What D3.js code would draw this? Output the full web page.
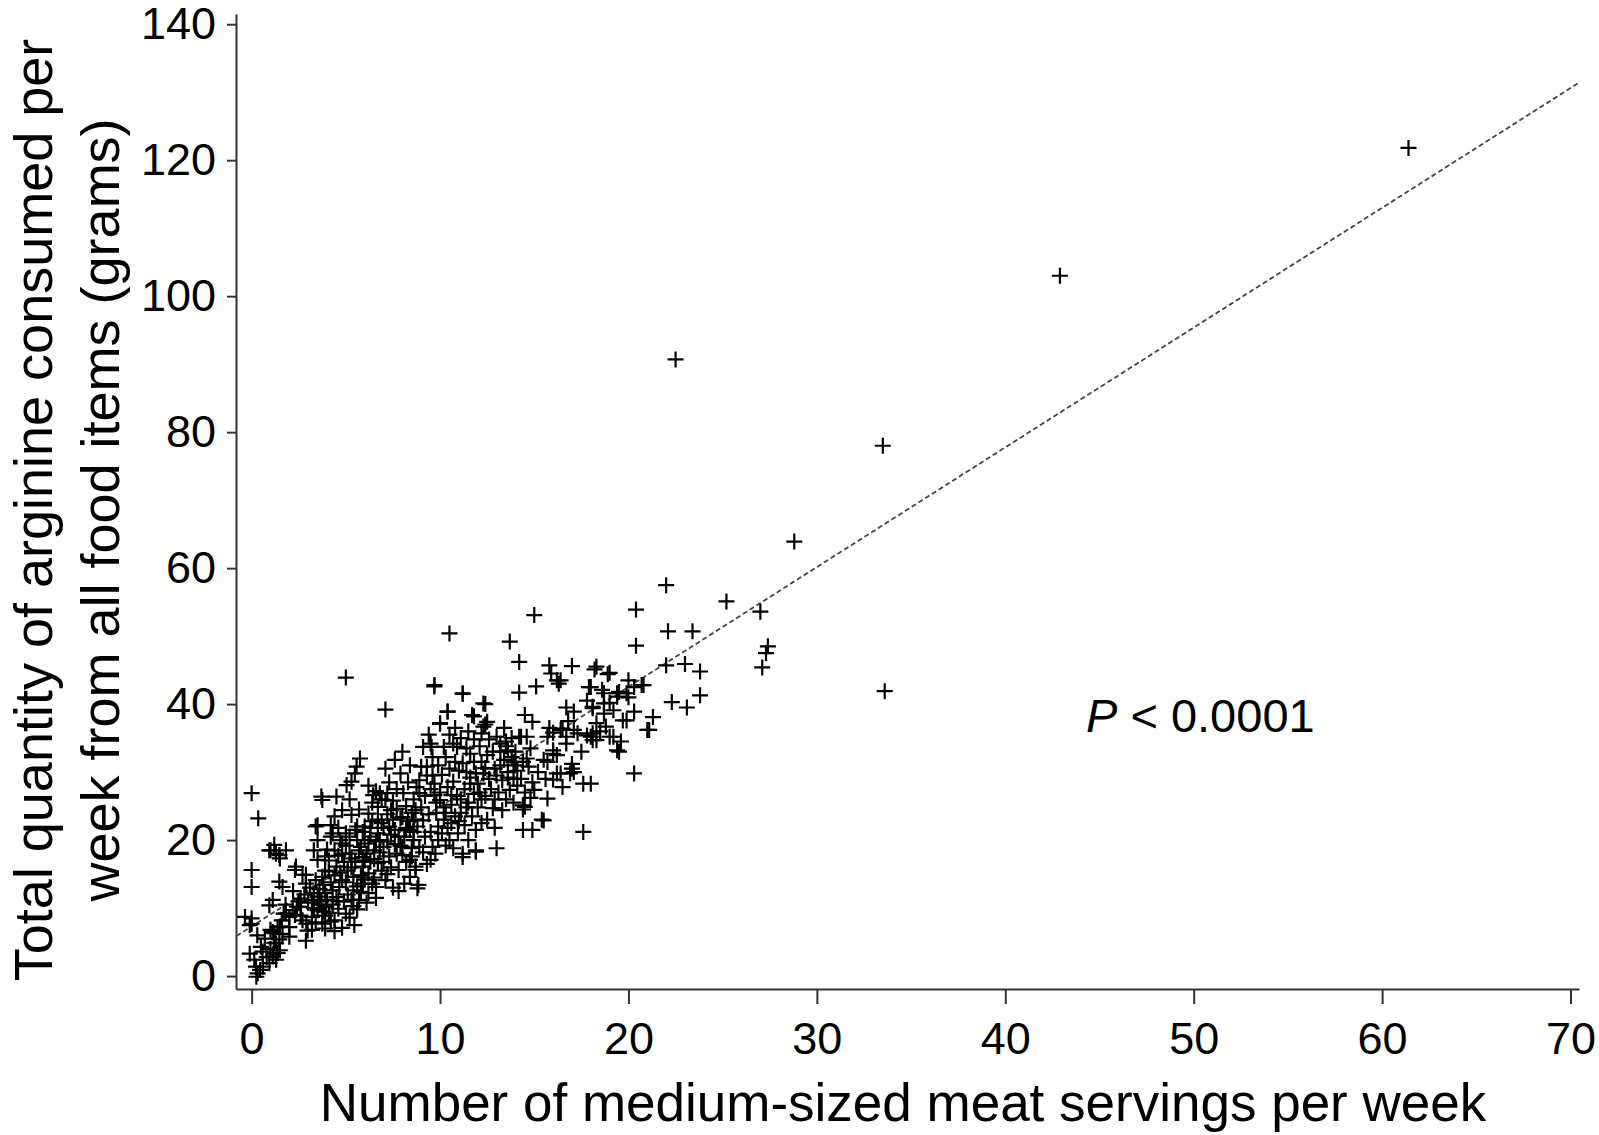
<!DOCTYPE html>
<html>
<head>
<meta charset="utf-8">
<script src="https://cdn.jsdelivr.net/npm/d3@7"></script>
<style>
body { margin: 0; background: #fff; }
svg { display: block; font-family: "Liberation Sans", Arial, sans-serif; }
.axis path, .axis line { stroke: #333; stroke-width: 2; }
.axis text { font-size: 45px; fill: #000; font-family: "Liberation Sans", Arial, sans-serif; }
</style>
</head>
<body>
<svg width="1599" height="1135"></svg>
<script>
// [meat servings per week, arginine grams per week]
var farPoints = [[61.4,121.8],[42.9,103.0],[22.5,90.7],[33.5,78.0],[33.6,41.9],[28.8,63.9],[25.2,55.1],[27.0,53.6],[22.0,57.5],[27.4,48.5],[27.3,47.5],[27.1,45.4]];

var highPoints = [[20.4,53.9],[22.1,50.7],[23.4,50.7],[20.4,48.6],[22.0,45.7],[23.0,45.9],[23.8,44.8],[20.0,43.5],[20.7,42.8],[19.0,44.6],[19.5,41.8],[20.0,41.0],[23.8,41.3],[22.3,40.3],[23.1,39.5],[19.2,39.1],[20.3,38.9],[21.3,38.1],[19.7,37.6],[21.0,36.2],[19.6,34.5],[19.0,35.2],[19.5,33.0],[20.3,29.8],
  [15.0,53.1],[10.5,50.4],[13.7,49.2],[14.2,46.2],[15.8,45.7],[17.0,45.6],[18.2,45.1],[18.9,44.4],[15.9,44.5],[16.2,43.5],[16.3,43.0],[15.1,42.6],[14.2,41.7],[17.9,42.5],[18.6,42.1],[9.7,42.6],[11.2,41.5],[12.4,40.0],[10.4,38.9],[11.8,38.2],[12.5,37.4],[10.0,37.1],[12.3,36.7],[12.2,35.7],[14.5,38.4],[14.9,37.4],[17.1,38.9],[18.1,39.4],[18.7,38.6],[16.5,36.4],[17.3,35.7],[18.3,37.2],[18.0,35.2],[15.7,35.2],[13.5,34.5],[14.2,35.2],[14.6,35.2],[9.5,34.2],[10.7,34.2],[13.2,34.2],
  [17.6,21.2],[14.4,21.5],[14.9,21.5],[15.4,23.0],[15.7,26.1],[15.0,27.4],[16.0,33.2],[15.7,31.5],[16.4,29.8],[17.1,30.0],[16.0,28.9],[17.6,28.3],[18.0,28.3],[19.4,33.2],[16.7,34.2],[18.1,34.7],
  [16.4,36.2],[18.1,39.6],[18.7,40.1],[19.4,41.6],[19.9,41.6],[20.3,42.5],[20.8,42.8],[17.8,35.4],[18.3,34.7],[19.2,35.2],[21.1,36.2],[16.2,29.8],[16.9,29.8],[15.5,22.9],[14.4,25.1],[16.0,32.7],[17.0,30.5],[18.3,45.5],[16.4,43.5],[18.0,42.5],[18.7,41.6],[19.4,41.1],[18.8,36.7],[19.9,37.6],[16.7,35.2],[17.1,36.2],[18.1,35.7]];

var midPoints = [[9.1,22.9],[9.55,33.7],[9.6,32.2],[9.5,17.1],[9.7,42.8],[10.0,37.2],[9.2,26.5],[9.5,27.5],[9.8,25.5],[9.3,29.5],[9.7,28.3],[9.2,20.5],[9.6,19.0],[9.9,22.0],[9.4,23.8],[9.8,24.0],[9.1,18.2],[9.9,20.0],[9.3,30.8],[9.6,29.5],[9.9,31.0],[9.4,35.5],[9.5,21.2],[9.0,24.8],[9.75,18.0],[9.3,16.5],
  [10.2,33.7],[10.3,32.2],[10.4,38.9],[10.9,33.7],[10.0,25.9],[10.3,24.0],[10.6,22.5],[10.1,21.0],[10.5,20.0],[10.8,23.5],[10.2,23.0],[10.6,25.2],[10.9,26.5],[10.4,27.8],[10.7,28.6],[10.1,29.6],[10.5,30.5],[10.8,31.5],[10.3,19.2],[10.7,18.8],[10.95,21.0],[10.0,27.0],[10.5,35.5],[10.8,36.5],
  [11.2,41.6],[11.7,38.4],[11.6,32.7],[11.2,31.3],[11.9,29.8],[11.2,18.0],[11.9,18.5],[11.1,24.0],[11.5,25.5],[11.8,26.8],[11.3,27.5],[11.6,28.3],[11.0,30.2],[11.4,30.0],[11.8,31.5],[11.3,22.2],[11.7,23.5],[11.9,21.5],[11.5,20.0],[11.1,26.0],[11.4,33.5],[11.8,34.8],[11.5,36.0],[11.1,35.0],[11.2,17.5],
  [12.3,40.1],[12.4,37.0],[12.2,22.5],[12.8,24.7],[13.0,18.8],[12.4,26.5],[12.1,27.0],[12.6,29.0],[12.9,30.5],[12.2,31.5],[12.5,32.5],[12.8,33.0],[12.3,29.8],[12.7,27.5],[12.0,24.8],[12.5,23.0],[12.9,26.0],[12.6,34.8],[12.1,33.8],[12.9,21.8],[11.9,18.3],
  [13.3,24.4],[13.0,35.2],[13.5,33.8],[13.8,32.2],[13.2,31.0],[13.6,30.0],[13.9,29.0],[13.3,28.8],[13.7,27.4],[13.1,27.0],[13.5,26.0],[13.9,31.5],[13.4,36.5],[13.8,35.0],[13.2,33.0],[13.6,29.2],[13.9,25.5],
  [14.3,35.2],[14.8,33.5],[14.4,31.5],[14.1,30.2],[14.7,30.8],[14.3,29.0],[14.9,28.5],[14.5,27.0],[14.1,28.0],[14.6,32.0],[14.0,33.0],[14.4,24.5],[14.8,26.2],[14.5,24.9],
  [15.5,31.8],[16.2,32.5],[15.2,30.0],[15.8,36.5],[16.8,37.5],[17.5,33.0],[17.0,31.2],[16.5,27.8],[15.6,29.0],[18.5,36.0],[16.0,35.8],[17.8,40.5],[19.0,40.2],[16.7,39.5],
  [10.2,24.8],[10.6,26.6],[11.0,22.8],[11.4,24.8],[12.0,28.3],[12.4,30.6],[13.0,29.5],[13.4,31.8],[10.4,21.8],[9.7,26.6],[11.6,29.2],[12.2,26.0],[13.6,33.2],[14.0,31.0]];

var lowPoints = [[0.0,26.9],[0.35,23.2],[0.0,15.6],[0.0,13.1],[-0.35,8.7],[0.0,7.7],[-0.1,7.5],[0.0,8.5],[0.49,4.3],[0.58,3.6],[-0.1,3.3],[0.14,2.4],[0.23,1.4],[0.32,0.4],[0.94,1.9],[0.6,1.4],[0.45,0.9],[0.25,-0.1],[0.94,10.4],[1.12,11.2],[0.8,2.8],
  [1.2,19.3],[0.94,18.5],[1.29,18.0],[1.47,17.8],[1.82,18.5],[1.0,18.5],[1.5,17.3],[1.47,13.9],[1.64,13.1],[1.12,2.9],[1.38,3.4],[1.3,2.4],[1.15,3.3],[1.2,4.9],[1.47,5.4],[1.3,4.8],[1.5,3.8],[1.12,6.5],[1.38,7.2],[1.64,6.2],[1.0,6.8],[1.2,6.3],[1.5,7.3],[1.82,9.2],[1.7,9.2],[2.0,8.7],[2.0,7.2],
  [2.35,16.1],[2.3,15.6],[2.7,14.9],[2.88,14.9],[2.18,9.7],[2.62,10.2],[2.4,10.2],[2.7,8.2],[2.97,6.7],[2.88,5.2],[2.9,7.7],[2.88,13.6],[2.5,11.0],[2.8,12.0],[2.2,12.5],[2.6,8.9],
  [3.2,11.2],[3.5,11.7],[3.9,12.2],[3.5,9.7],[3.9,8.9],[3.2,8.7],[3.75,7.7],[3.2,6.8],[3.4,14.1],[3.75,14.6],[3.5,17.1],[3.9,17.6],[3.4,22.0],[3.75,25.9],[3.7,26.4],[3.5,22.2],[3.5,20.0],[3.3,18.5],[3.6,10.5],[3.8,9.5],[3.3,10.0],[3.6,12.8],[3.9,15.5],[3.1,13.0],[3.7,11.0],[3.4,7.9],[3.95,10.2],
  [4.3,12.6],[4.65,13.1],[4.4,8.2],[4.4,6.6],[4.8,7.1],[4.1,15.4],[4.5,16.1],[4.4,18.5],[4.8,19.5],[4.4,23.5],[4.8,24.4],[4.5,26.4],[4.2,22.2],[4.2,20.5],[4.7,20.0],[4.8,14.1],[4.3,10.5],[4.6,9.9],[4.1,9.3],[4.9,11.0],[4.5,11.6],[4.2,13.8],[4.7,15.2],[4.1,17.0],[4.6,17.7],[4.9,16.8],[4.3,21.0],[4.6,21.8],
  [5.0,43.9],[5.0,9.2],[5.3,11.2],[5.45,7.5],[5.2,20.5],[5.5,21.5],[5.3,23.7],[5.0,21.0],[5.4,12.6],[5.4,14.6],[5.75,32.0],[5.57,30.8],[5.48,29.8],[5.3,28.6],[5.04,28.1],[5.7,18.5],[5.9,16.1],[5.9,13.6],[5.7,11.2],[5.6,20.0],[5.8,19.0],[5.6,22.0],[5.9,21.2],[5.2,18.0],[5.5,16.8],[5.1,15.5],[5.3,17.3],[5.7,24.5],[5.2,26.0],[5.6,9.8],[5.1,12.0],[5.8,14.8],[5.4,10.3],
  [6.2,19.5],[6.7,21.0],[6.2,15.1],[6.7,16.6],[6.6,13.1],[6.2,12.2],[6.2,23.9],[6.7,24.9],[6.45,26.6],[6.0,22.0],[6.3,20.5],[6.5,18.5],[6.1,18.0],[6.6,19.8],[6.4,22.8],[6.9,22.5],[6.0,17.0],[6.8,18.2],[6.3,16.8],[6.5,14.5],[6.9,15.5],[6.1,10.8],[6.6,11.5],[6.8,20.0],[6.4,25.5],[6.9,26.0],[6.2,28.0],[6.6,27.2],[6.0,14.2],[6.8,26.9],[7.1,25.9],
  [7.3,22.0],[7.3,17.6],[7.1,14.1],[7.4,24.4],[7.1,39.2],[7.2,26.9],[7.8,20.5],[7.7,18.0],[7.9,29.8],[8.0,33.0],[7.5,23.0],[7.7,24.6],[7.2,19.8],[7.6,21.5],[7.9,23.2],[7.4,16.0],[7.8,15.6],[7.5,13.0],[7.3,28.5],[7.7,27.5],[7.1,30.5],[7.6,31.8],[7.4,20.8],[7.9,19.2],[7.0,21.8],[7.8,12.5],
  [8.0,23.4],[8.7,24.4],[8.4,21.5],[8.0,19.0],[8.5,17.6],[8.7,16.1],[8.4,14.6],[8.8,12.9],[8.05,26.9],[8.75,27.8],[8.9,26.9],[9.0,30.8],[8.4,17.1],[8.7,15.6],[8.85,13.4],[8.3,22.8],[8.6,23.0],[8.2,25.0],[8.5,24.0],[8.8,22.0],[8.3,28.5],[8.6,26.0],[8.9,28.8],[8.1,20.5],[8.6,20.0],[8.2,16.8],[8.9,19.0],[8.4,31.0],[8.5,18.8],[8.1,13.6],[9.1,33.7],
  [3.0,10.8],[3.3,12.2],[3.8,13.4],[4.0,11.2],[4.4,14.8],[4.0,18.6],[4.8,18.0],[5.0,19.2],[5.3,16.0],[5.6,13.2],[5.0,13.8],[5.9,17.5],[6.3,21.8],[6.7,23.0],[6.0,20.0],[6.5,17.2],[7.0,19.0],[7.2,23.8],[7.5,25.8],[7.0,16.8],[7.6,19.4],[8.2,21.8],[8.6,21.2],[8.0,17.8],[2.3,9.0],[2.6,11.4],[1.8,10.5],[1.6,8.2],[2.0,5.8],[0.7,5.5],[1.0,4.0],[0.3,6.0],[4.2,8.0],[3.9,7.0],[5.2,8.6],[4.6,11.0],[5.8,12.4],[6.4,13.6],[7.2,15.0]];

var fitLine = [[-0.8, 5.9], [70.45, 131.4]];

var xTicks = [0, 10, 20, 30, 40, 50, 60, 70];
var yTicks = [0, 20, 40, 60, 80, 100, 120, 140];
var xDomain = [-0.83, 70.45];
var yDomain = [-1.9, 141.5];

var xTitle = "Number of medium-sized meat servings per week";
var yTitle = ["Total quantity of arginine consumed per", "week from all food items (grams)"];

drawChart();

function drawChart(){
    var svg = d3.select("svg");
    var points = lowPoints.concat(midPoints, highPoints, farPoints);

    var x = d3.scaleLinear().domain(xDomain).range([236, 1579]);
    var y = d3.scaleLinear().domain(yDomain).range([989, 14]);

    svg.append("g")
        .attr("class", "axis")
        .attr("transform", "translate(0,989)")
        .call(d3.axisBottom(x).tickValues(xTicks).tickSize(15).tickSizeOuter(0).tickPadding(18));

    svg.append("g")
        .attr("class", "axis")
        .attr("transform", "translate(236,0)")
        .call(d3.axisLeft(y).tickValues(yTicks).tickSize(9).tickSizeOuter(0).tickPadding(11));

    var line = d3.line()
        .x(function(d){ return x(d[0]); })
        .y(function(d){ return y(d[1]); });

    svg.append("path")
        .datum(fitLine)
        .attr("fill", "none")
        .attr("stroke", "#444")
        .attr("stroke-width", 1.8)
        .attr("stroke-dasharray", "5,3")
        .attr("d", line);

    svg.append("g")
        .selectAll("path")
        .data(points)
        .enter()
        .append("path")
        .attr("transform", function(d){ return "translate(" + x(d[0]) + "," + y(d[1]) + ")"; })
        .attr("d", "M-8,0H8M0,-8V8")
        .attr("stroke", "#000")
        .attr("stroke-width", 2.2)
        .attr("fill", "none");

    svg.append("text")
        .attr("x", 903)
        .attr("y", 1121)
        .attr("text-anchor", "middle")
        .style("font-size", "53px")
        .text(xTitle);

    svg.selectAll(".ytitle")
        .data(yTitle)
        .enter()
        .append("text")
        .attr("class", "ytitle")
        .attr("transform", function(d, i){ return "translate(" + (52 + i * 67) + ",510) rotate(-90)"; })
        .attr("text-anchor", "middle")
        .style("font-size", "54px")
        .text(function(d){ return d; });

    var p = svg.append("text")
        .attr("x", 1086)
        .attr("y", 732)
        .style("font-size", "47px");
    p.append("tspan").style("font-style", "italic").text("P");
    p.append("tspan").text(" < 0.0001");
}
</script>
</body>
</html>
